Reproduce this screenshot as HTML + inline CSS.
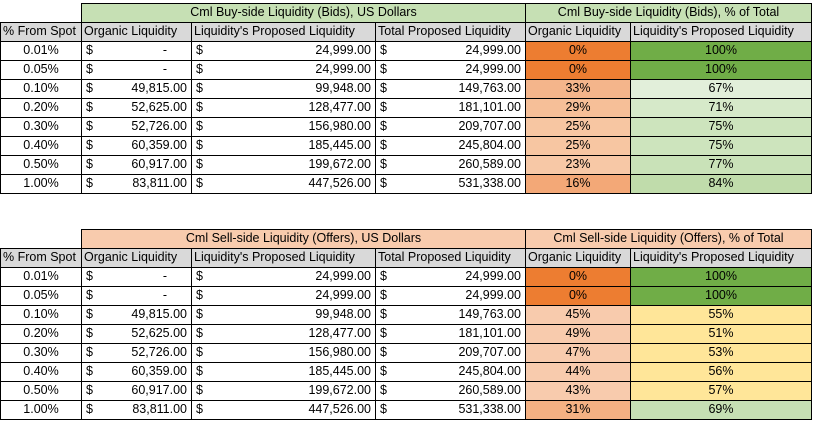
<!DOCTYPE html>
<html><head><meta charset="utf-8"><style>
html,body{margin:0;padding:0;background:#fff;width:816px;height:422px;overflow:hidden;font-family:"Liberation Sans",sans-serif;}
.c{position:absolute;box-sizing:border-box;border:1px solid #000;font-size:12.5px;line-height:17px;color:#000;white-space:nowrap;overflow:hidden;}
.r{position:absolute;right:4px;top:0}
.l{position:absolute;left:4px;top:0}
.ctr{text-align:center}
</style></head><body>
<div id="root"></div>
<script>
const spots=["0.01%","0.05%","0.10%","0.20%","0.30%","0.40%","0.50%","1.00%"];
const organic=["-","-","49,815.00","52,625.00","52,726.00","60,359.00","60,917.00","83,811.00"];
const proposed=["24,999.00","24,999.00","99,948.00","128,477.00","156,980.00","185,445.00","199,672.00","447,526.00"];
const total=["24,999.00","24,999.00","149,763.00","181,101.00","209,707.00","245,804.00","260,589.00","531,338.00"];
const buyOrgPct=[0,0,33,29,25,25,23,16];
const buyPropPct=[100,100,67,71,75,75,77,84];
const sellOrgPct=[0,0,45,49,47,44,43,31];
const sellPropPct=[100,100,55,51,53,56,57,69];
const buyOrgCol=["#ed7d31","#ed7d31","#f4b58b","#f6bf98","#f7c6a2","#f7c6a2","#f7c8a6","#f3a877"];
const buyPropCol=["#70ad47","#70ad47","#e2efda","#d6e9c9","#cde4bd","#cde4bd","#c9e2b8","#c0dcab"];
const sellOrgCol=["#ed7d31","#ed7d31","#f8cbad","#f8cbad","#f8cbad","#f8cbad","#f8cbad","#f4b183"];
const sellPropCol=["#70ad47","#70ad47","#ffe699","#ffe699","#ffe699","#ffe699","#ffe699","#c6e0b4"];
const X=[0,81,191,375,525,630,811];
const root=document.getElementById('root');
function cell(x1,x2,y,h,bg,name){
  const d=document.createElement('div');
  d.className='c';
  d.style.left=x1+'px';d.style.top=y+'px';d.style.width=(x2-x1+1)+'px';d.style.height=(h+1)+'px';
  d.style.background=bg;
  
  
  root.appendChild(d);return d;
}
function span(d,cls,t){const s=document.createElement('span');s.className=cls;s.textContent=t;d.appendChild(s);}
function table(top,side,hdrBg,t1,t2,orgP,propP,orgC,propC){
  const h1=cell(X[1],X[4],top,19,hdrBg,side+'-usd-header');h1.classList.add('ctr');h1.textContent=t1;
  const h2=cell(X[4],X[6],top,19,hdrBg,side+'-pct-header');h2.classList.add('ctr');h2.textContent=t2;
  const subs=["% From Spot","Organic Liquidity","Liquidity's Proposed Liquidity","Total Proposed Liquidity","Organic Liquidity","Liquidity's Proposed Liquidity"];
  const y0=top+19;
  for(let i=0;i<6;i++){const d=cell(X[i],X[i+1],y0,19,'#d9d9d9',side+'-column-header');d.style.paddingLeft='2px';d.textContent=subs[i];}
  for(let r=0;r<spots.length;r++){
    const y=y0+19*(r+1);
    let d=cell(X[0],X[1],y,19,'#fff',side+'-spot');d.classList.add('ctr');d.textContent=spots[r];
    d=cell(X[1],X[2],y,19,'#fff',side+'-organic-usd');span(d,'l','$');
    if(organic[r]==='-'){const s=document.createElement('span');s.className='r';s.style.right='24px';s.textContent='-';d.appendChild(s);} else span(d,'r',organic[r]);
    d=cell(X[2],X[3],y,19,'#fff',side+'-proposed-usd');span(d,'l','$');span(d,'r',proposed[r]);
    d=cell(X[3],X[4],y,19,'#fff',side+'-total-usd');span(d,'l','$');span(d,'r',total[r]);
    d=cell(X[4],X[5],y,19,orgC[r],side+'-organic-pct');d.classList.add('ctr');d.textContent=orgP[r]+'%';
    d=cell(X[5],X[6],y,19,propC[r],side+'-proposed-pct');d.classList.add('ctr');d.textContent=propP[r]+'%';
  }
}
table(3,'buy','#c6e0b4','Cml Buy-side Liquidity (Bids), US Dollars','Cml Buy-side Liquidity (Bids), % of Total',buyOrgPct,buyPropPct,buyOrgCol,buyPropCol);
table(229,'sell','#f8cbad','Cml Sell-side Liquidity (Offers), US Dollars','Cml Sell-side Liquidity (Offers), % of Total',sellOrgPct,sellPropPct,sellOrgCol,sellPropCol);
</script>
</body></html>
